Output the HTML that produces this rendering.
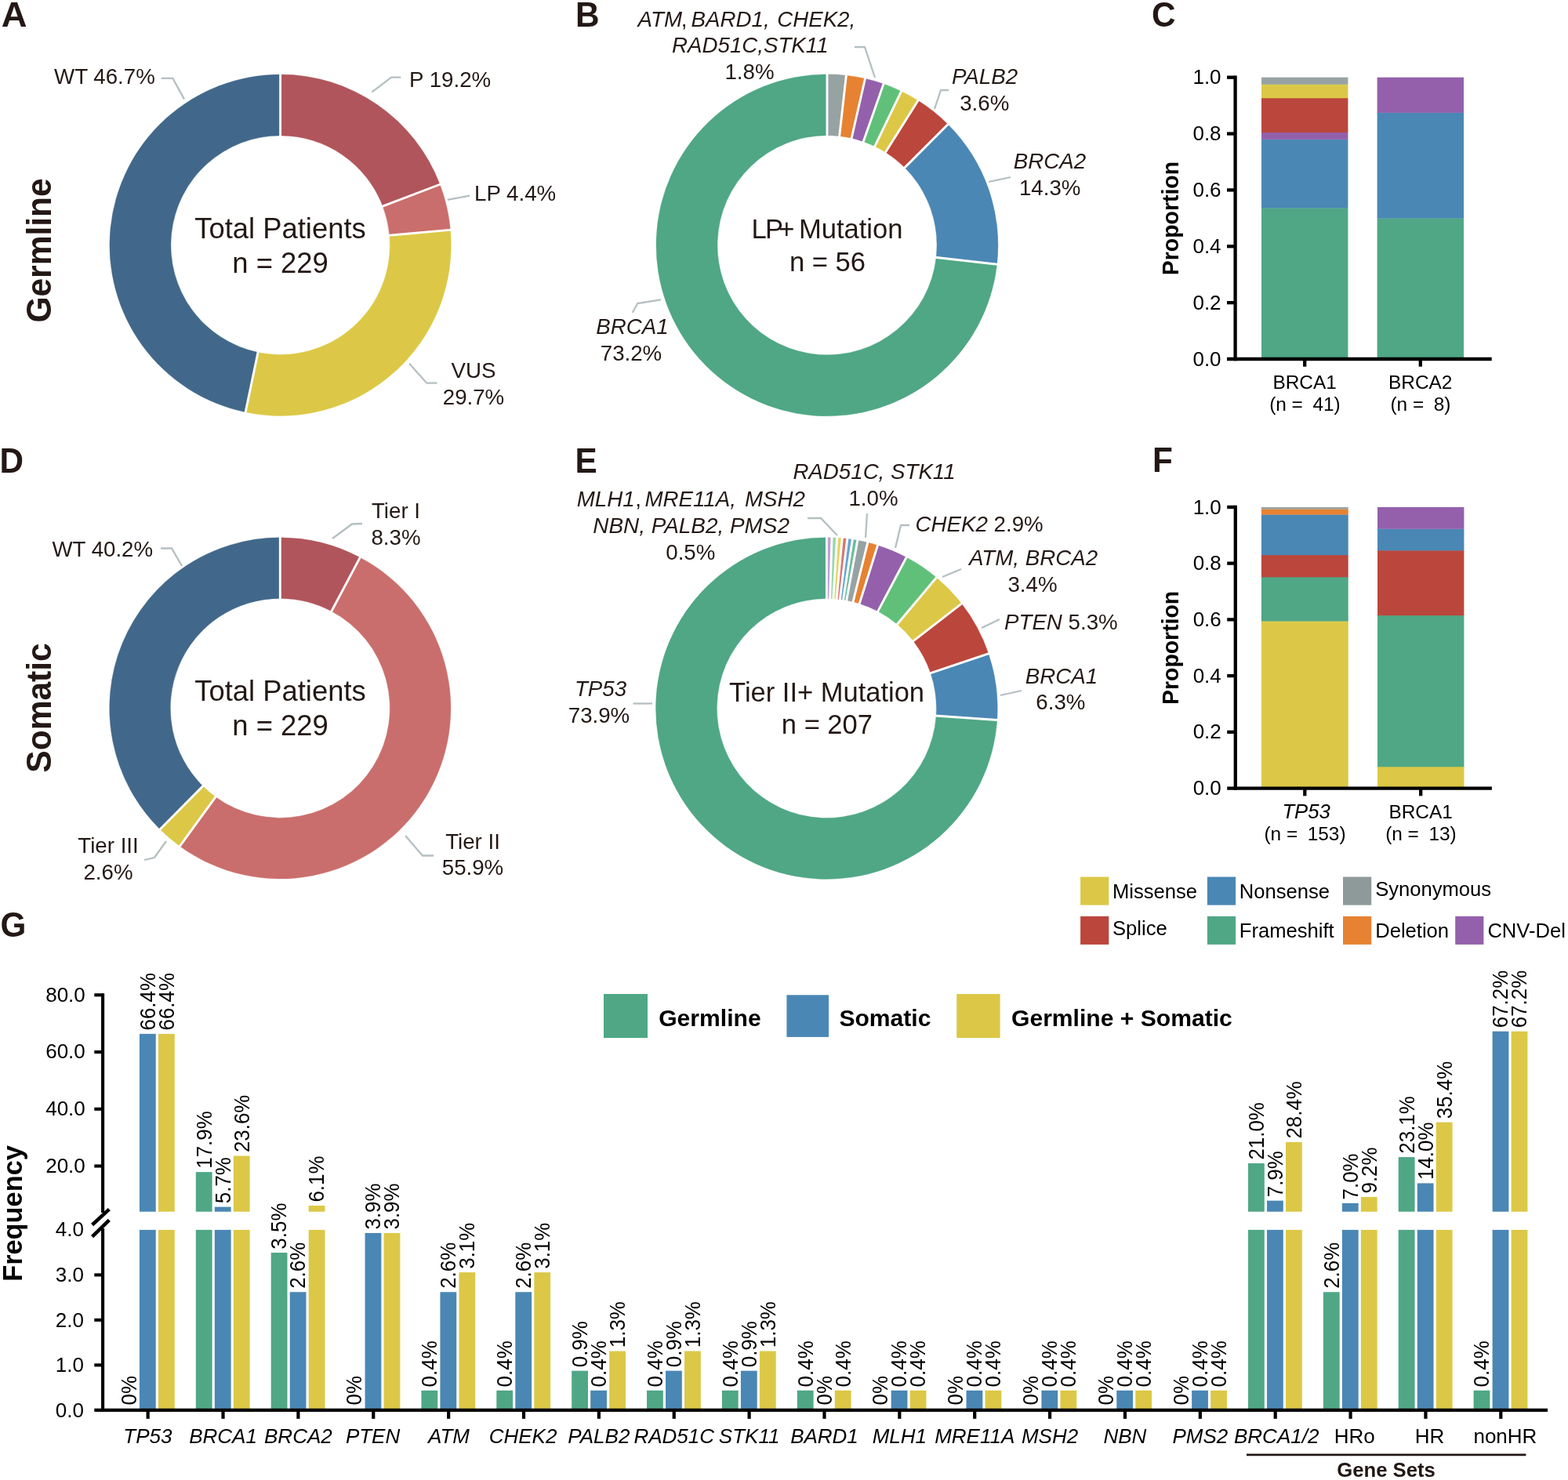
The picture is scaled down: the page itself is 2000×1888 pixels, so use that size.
<!DOCTYPE html>
<html lang="en"><head><meta charset="utf-8"><title>Figure</title>
<style>
html,body{margin:0;padding:0;background:#fff;}
body{width:2000px;height:1888px;overflow:hidden;}
svg{display:block;font-family:"Liberation Sans",Arial,Helvetica,sans-serif;fill:#231815;}
</style></head><body>
<svg width="2000" height="1888" viewBox="0 0 2000 1888">
<rect width="2000" height="1888" fill="#fff"/>
<text transform="translate(1.7 34) scale(1.02 1)" text-anchor="start" style="font-size:44.5px;font-weight:bold;" >A</text>
<text transform="translate(734 34) scale(0.95 1)" text-anchor="start" style="font-size:44.5px;font-weight:bold;" >B</text>
<text transform="translate(1469 34) scale(0.95 1)" text-anchor="start" style="font-size:44.5px;font-weight:bold;" >C</text>
<text transform="translate(-0.4 602.6) scale(0.95 1)" text-anchor="start" style="font-size:44.5px;font-weight:bold;" >D</text>
<text transform="translate(733.4 602.5) scale(0.95 1)" text-anchor="start" style="font-size:44.5px;font-weight:bold;" >E</text>
<text transform="translate(1470 602) scale(0.95 1)" text-anchor="start" style="font-size:44.5px;font-weight:bold;" >F</text>
<text transform="translate(0.6 1195.2) scale(0.95 1)" text-anchor="start" style="font-size:44.5px;font-weight:bold;" >G</text>
<text transform="translate(64.6 319.5) rotate(-90) scale(0.955 1)" text-anchor="middle" style="font-size:44.5px;font-weight:bold;" >Germline</text>
<text transform="translate(64.6 903) rotate(-90) scale(0.955 1)" text-anchor="middle" style="font-size:44.5px;font-weight:bold;" >Somatic</text>
<path d="M357.60 95.00A217.7 217.7 0 0 1 561.07 235.29L488.17 263.02A139.7 139.7 0 0 0 357.60 173.00Z" fill="#b0555b" stroke="#b0555b" stroke-width="0.4"/>
<path d="M561.07 235.29A217.7 217.7 0 0 1 574.44 293.31L496.74 300.26A139.7 139.7 0 0 0 488.17 263.02Z" fill="#c96e6c" stroke="#c96e6c" stroke-width="0.4"/>
<path d="M574.44 293.31A217.7 217.7 0 0 1 313.12 525.81L329.05 449.45A139.7 139.7 0 0 0 496.74 300.26Z" fill="#dcc846" stroke="#dcc846" stroke-width="0.4"/>
<path d="M313.12 525.81A217.7 217.7 0 0 1 357.60 95.00L357.60 173.00A139.7 139.7 0 0 0 329.05 449.45Z" fill="#41688a" stroke="#41688a" stroke-width="0.4"/>
<line x1="357.60" y1="93.50" x2="357.60" y2="174.50" stroke="#fff" stroke-width="2.9"/>
<line x1="562.47" y1="234.75" x2="486.77" y2="263.56" stroke="#fff" stroke-width="2.9"/>
<line x1="575.93" y1="293.18" x2="495.25" y2="300.39" stroke="#fff" stroke-width="2.9"/>
<line x1="312.81" y1="527.28" x2="329.36" y2="447.98" stroke="#fff" stroke-width="2.9"/>
<text x="69" y="106.6" text-anchor="start" style="font-size:27.7px;" >WT 46.7%</text>
<text x="522" y="110.7" text-anchor="start" style="font-size:27.7px;" >P 19.2%</text>
<text x="605" y="255.6" text-anchor="start" style="font-size:27.7px;" >LP 4.4%</text>
<text x="604" y="482" text-anchor="middle" style="font-size:27.7px;" >VUS</text>
<text x="604" y="516" text-anchor="middle" style="font-size:27.7px;" >29.7%</text>
<text x="357.5" y="303.8" text-anchor="middle" style="font-size:36.4px;" >Total Patients</text>
<text x="357.5" y="348" text-anchor="middle" style="font-size:36.4px;" >n = 229</text>
<polyline points="205.6,99.9 220.4,99.9 235,126.6" fill="none" stroke="#b5bfc2" stroke-width="2.3"/>
<polyline points="511.3,98.6 499.2,98.6 474.2,117.6" fill="none" stroke="#b5bfc2" stroke-width="2.3"/>
<polyline points="599,249.6 570.9,254.8" fill="none" stroke="#b5bfc2" stroke-width="2.3"/>
<polyline points="557.6,488.7 544.3,488.7 522.1,463.8" fill="none" stroke="#b5bfc2" stroke-width="2.3"/>
<path d="M1055.00 94.80A218 218 0 0 1 1079.41 96.17L1070.68 173.68A140 140 0 0 0 1055.00 172.80Z" fill="#97a3a2" stroke="#97a3a2" stroke-width="0.4"/>
<path d="M1079.41 96.17A218 218 0 0 1 1103.51 100.27L1086.15 176.31A140 140 0 0 0 1070.68 173.68Z" fill="#e68231" stroke="#e68231" stroke-width="0.4"/>
<path d="M1103.51 100.27A218 218 0 0 1 1127.00 107.03L1101.24 180.66A140 140 0 0 0 1086.15 176.31Z" fill="#9460ab" stroke="#9460ab" stroke-width="0.4"/>
<path d="M1127.00 107.03A218 218 0 0 1 1149.59 116.39L1115.74 186.66A140 140 0 0 0 1101.24 180.66Z" fill="#60c079" stroke="#60c079" stroke-width="0.4"/>
<path d="M1149.59 116.39A218 218 0 0 1 1170.98 128.21L1129.48 194.26A140 140 0 0 0 1115.74 186.66Z" fill="#dcc846" stroke="#dcc846" stroke-width="0.4"/>
<path d="M1170.98 128.21A218 218 0 0 1 1209.15 158.65L1153.99 213.81A140 140 0 0 0 1129.48 194.26Z" fill="#bb463c" stroke="#bb463c" stroke-width="0.4"/>
<path d="M1209.15 158.65A218 218 0 0 1 1271.63 337.21L1194.12 328.48A140 140 0 0 0 1153.99 213.81Z" fill="#4a87b4" stroke="#4a87b4" stroke-width="0.4"/>
<path d="M1271.63 337.21A218 218 0 1 1 1055.00 94.80L1055.00 172.80A140 140 0 1 0 1194.12 328.48Z" fill="#4fa785" stroke="#4fa785" stroke-width="0.4"/>
<line x1="1055.00" y1="93.30" x2="1055.00" y2="174.30" stroke="#fff" stroke-width="2.9"/>
<line x1="1079.58" y1="94.68" x2="1070.51" y2="175.17" stroke="#fff" stroke-width="2.9"/>
<line x1="1103.84" y1="98.80" x2="1085.82" y2="177.77" stroke="#fff" stroke-width="2.9"/>
<line x1="1127.50" y1="105.62" x2="1100.74" y2="182.07" stroke="#fff" stroke-width="2.9"/>
<line x1="1150.24" y1="115.04" x2="1115.09" y2="188.02" stroke="#fff" stroke-width="2.9"/>
<line x1="1171.78" y1="126.94" x2="1128.69" y2="195.53" stroke="#fff" stroke-width="2.9"/>
<line x1="1210.21" y1="157.59" x2="1152.93" y2="214.87" stroke="#fff" stroke-width="2.9"/>
<line x1="1273.12" y1="337.38" x2="1192.63" y2="328.31" stroke="#fff" stroke-width="2.9"/>
<text x="813.6" y="34" text-anchor="start" style="font-size:27.7px;" ><tspan font-style="italic">ATM</tspan><tspan x="868.8">,</tspan> <tspan x="881.6" font-style="italic">BARD1,</tspan> <tspan x="991.2" font-style="italic">CHEK2,</tspan></text>
<text x="956.8" y="67" text-anchor="middle" style="font-size:27.7px;font-style:italic;" >RAD51C,STK11</text>
<text x="956" y="101" text-anchor="middle" style="font-size:27.7px;" >1.8%</text>
<text x="1256" y="107" text-anchor="middle" style="font-size:27.7px;font-style:italic;" >PALB2</text>
<text x="1255.7" y="140.5" text-anchor="middle" style="font-size:27.7px;" >3.6%</text>
<text x="1339" y="215" text-anchor="middle" style="font-size:27.7px;font-style:italic;" >BRCA2</text>
<text x="1339.2" y="249" text-anchor="middle" style="font-size:27.7px;" >14.3%</text>
<text x="806.5" y="425.5" text-anchor="middle" style="font-size:27.7px;font-style:italic;" >BRCA1</text>
<text x="805" y="459.8" text-anchor="middle" style="font-size:27.7px;" >73.2%</text>
<text x="958.5" y="304.4" text-anchor="start" style="font-size:34.6px;" >L<tspan x="975.9">P</tspan><tspan x="993.3">+</tspan> <tspan x="1018.9">Mutation</tspan></text>
<text x="1055.5" y="345.8" text-anchor="middle" style="font-size:34.6px;" >n = 56</text>
<polyline points="1090,60 1103,60 1116,99" fill="none" stroke="#b5bfc2" stroke-width="2.3"/>
<polyline points="1210,115 1200,115 1192,139" fill="none" stroke="#b5bfc2" stroke-width="2.3"/>
<polyline points="1289,226 1261,232" fill="none" stroke="#b5bfc2" stroke-width="2.3"/>
<polyline points="843,382.3 813.2,387 806.8,398.8" fill="none" stroke="#b5bfc2" stroke-width="2.3"/>
<path d="M357.30 685.80A217.6 217.6 0 0 1 459.21 711.14L422.86 779.70A140 140 0 0 0 357.30 763.40Z" fill="#b0555b" stroke="#b0555b" stroke-width="0.4"/>
<path d="M459.21 711.14A217.6 217.6 0 1 1 229.40 1079.44L275.01 1016.66A140 140 0 1 0 422.86 779.70Z" fill="#c96e6c" stroke="#c96e6c" stroke-width="0.4"/>
<path d="M229.40 1079.44A217.6 217.6 0 0 1 204.11 1057.94L258.74 1002.83A140 140 0 0 0 275.01 1016.66Z" fill="#dcc846" stroke="#dcc846" stroke-width="0.4"/>
<path d="M204.11 1057.94A217.6 217.6 0 0 1 357.30 685.80L357.30 763.40A140 140 0 0 0 258.74 1002.83Z" fill="#41688a" stroke="#41688a" stroke-width="0.4"/>
<line x1="357.30" y1="684.30" x2="357.30" y2="764.90" stroke="#fff" stroke-width="2.9"/>
<line x1="459.91" y1="709.81" x2="422.16" y2="781.03" stroke="#fff" stroke-width="2.9"/>
<line x1="228.52" y1="1080.66" x2="275.89" y2="1015.45" stroke="#fff" stroke-width="2.9"/>
<line x1="203.06" y1="1059.01" x2="259.80" y2="1001.76" stroke="#fff" stroke-width="2.9"/>
<text x="66.4" y="710.4" text-anchor="start" style="font-size:27.7px;" >WT 40.2%</text>
<text x="505" y="661" text-anchor="middle" style="font-size:27.7px;" >Tier I</text>
<text x="505" y="694.6" text-anchor="middle" style="font-size:27.7px;" >8.3%</text>
<text x="603" y="1082.6" text-anchor="middle" style="font-size:27.7px;" >Tier II</text>
<text x="603" y="1116.1" text-anchor="middle" style="font-size:27.7px;" >55.9%</text>
<text x="138" y="1088.4" text-anchor="middle" style="font-size:27.7px;" >Tier III</text>
<text x="138" y="1122.4" text-anchor="middle" style="font-size:27.7px;" >2.6%</text>
<text x="357.5" y="894.2" text-anchor="middle" style="font-size:36.4px;" >Total Patients</text>
<text x="357.5" y="938.4" text-anchor="middle" style="font-size:36.4px;" >n = 229</text>
<polyline points="205,699.5 219,699.5 232,722" fill="none" stroke="#b5bfc2" stroke-width="2.3"/>
<polyline points="462,668 449,668.5 424,687" fill="none" stroke="#b5bfc2" stroke-width="2.3"/>
<polyline points="553,1091.5 539,1091.5 517,1066" fill="none" stroke="#b5bfc2" stroke-width="2.3"/>
<polyline points="184,1097 197,1094 212,1073" fill="none" stroke="#b5bfc2" stroke-width="2.3"/>
<path d="M1054.40 685.70A217.9 217.9 0 0 1 1061.01 685.80L1058.65 763.66A140 140 0 0 0 1054.40 763.60Z" fill="#bda2d5" stroke="#bda2d5" stroke-width="0.4"/>
<path d="M1061.01 685.80A217.9 217.9 0 0 1 1067.62 686.10L1062.89 763.86A140 140 0 0 0 1058.65 763.66Z" fill="#96d9ac" stroke="#96d9ac" stroke-width="0.4"/>
<path d="M1067.62 686.10A217.9 217.9 0 0 1 1074.21 686.60L1067.13 764.18A140 140 0 0 0 1062.89 763.86Z" fill="#e5d365" stroke="#e5d365" stroke-width="0.4"/>
<path d="M1074.21 686.60A217.9 217.9 0 0 1 1080.79 687.30L1071.36 764.63A140 140 0 0 0 1067.13 764.18Z" fill="#d67877" stroke="#d67877" stroke-width="0.4"/>
<path d="M1080.79 687.30A217.9 217.9 0 0 1 1087.34 688.20L1075.57 765.21A140 140 0 0 0 1071.36 764.63Z" fill="#68a5d2" stroke="#68a5d2" stroke-width="0.4"/>
<path d="M1087.34 688.20A217.9 217.9 0 0 1 1093.87 689.30L1079.76 765.92A140 140 0 0 0 1075.57 765.21Z" fill="#6bbd9f" stroke="#6bbd9f" stroke-width="0.4"/>
<path d="M1093.87 689.30A217.9 217.9 0 0 1 1106.79 692.09L1088.06 767.71A140 140 0 0 0 1079.76 765.92Z" fill="#97a3a2" stroke="#97a3a2" stroke-width="0.4"/>
<path d="M1106.79 692.09A217.9 217.9 0 0 1 1119.53 695.66L1096.25 770.00A140 140 0 0 0 1088.06 767.71Z" fill="#e68231" stroke="#e68231" stroke-width="0.4"/>
<path d="M1119.53 695.66A217.9 217.9 0 0 1 1156.11 710.90L1119.75 779.79A140 140 0 0 0 1096.25 770.00Z" fill="#9460ab" stroke="#9460ab" stroke-width="0.4"/>
<path d="M1156.11 710.90A217.9 217.9 0 0 1 1194.46 736.68L1144.39 796.35A140 140 0 0 0 1119.75 779.79Z" fill="#60c079" stroke="#60c079" stroke-width="0.4"/>
<path d="M1194.46 736.68A217.9 217.9 0 0 1 1226.51 769.97L1164.98 817.74A140 140 0 0 0 1144.39 796.35Z" fill="#dcc846" stroke="#dcc846" stroke-width="0.4"/>
<path d="M1226.51 769.97A217.9 217.9 0 0 1 1260.80 833.75L1187.01 858.72A140 140 0 0 0 1164.98 817.74Z" fill="#bb463c" stroke="#bb463c" stroke-width="0.4"/>
<path d="M1260.80 833.75A217.9 217.9 0 0 1 1271.79 918.47L1194.07 913.15A140 140 0 0 0 1187.01 858.72Z" fill="#4a87b4" stroke="#4a87b4" stroke-width="0.4"/>
<path d="M1271.79 918.47A217.9 217.9 0 1 1 1054.40 685.70L1054.40 763.60A140 140 0 1 0 1194.07 913.15Z" fill="#4fa785" stroke="#4fa785" stroke-width="0.4"/>
<line x1="1054.40" y1="684.20" x2="1054.40" y2="765.10" stroke="#fff" stroke-width="2.9"/>
<line x1="1061.06" y1="684.30" x2="1058.60" y2="765.16" stroke="#fff" stroke-width="2.9"/>
<line x1="1067.71" y1="684.60" x2="1062.80" y2="765.36" stroke="#fff" stroke-width="2.9"/>
<line x1="1074.35" y1="685.11" x2="1066.99" y2="765.67" stroke="#fff" stroke-width="2.9"/>
<line x1="1080.97" y1="685.82" x2="1071.17" y2="766.12" stroke="#fff" stroke-width="2.9"/>
<line x1="1087.57" y1="686.72" x2="1075.34" y2="766.69" stroke="#fff" stroke-width="2.9"/>
<line x1="1094.14" y1="687.83" x2="1079.48" y2="767.39" stroke="#fff" stroke-width="2.9"/>
<line x1="1107.15" y1="690.64" x2="1087.70" y2="769.16" stroke="#fff" stroke-width="2.9"/>
<line x1="1119.98" y1="694.23" x2="1095.80" y2="771.43" stroke="#fff" stroke-width="2.9"/>
<line x1="1156.81" y1="709.57" x2="1119.05" y2="781.11" stroke="#fff" stroke-width="2.9"/>
<line x1="1195.43" y1="735.53" x2="1143.43" y2="797.50" stroke="#fff" stroke-width="2.9"/>
<line x1="1227.70" y1="769.05" x2="1163.80" y2="818.66" stroke="#fff" stroke-width="2.9"/>
<line x1="1262.22" y1="833.27" x2="1185.59" y2="859.21" stroke="#fff" stroke-width="2.9"/>
<line x1="1273.29" y1="918.57" x2="1192.58" y2="913.05" stroke="#fff" stroke-width="2.9"/>
<text x="1115" y="611" text-anchor="middle" style="font-size:27.7px;font-style:italic;" >RAD51C, STK11</text>
<text x="1114" y="645" text-anchor="middle" style="font-size:27.7px;" >1.0%</text>
<text x="735.8" y="646" text-anchor="start" style="font-size:27.7px;" ><tspan font-style="italic">MLH1</tspan><tspan x="810.2">,</tspan> <tspan x="822.4" font-style="italic">MRE11A,</tspan> <tspan x="949.9" font-style="italic">MSH2</tspan></text>
<text x="881.6" y="680" text-anchor="middle" style="font-size:27.9px;font-style:italic;" >NBN, PALB2, PMS2</text>
<text x="880.8" y="713.5" text-anchor="middle" style="font-size:27.7px;" >0.5%</text>
<text x="1167.6" y="677.7" text-anchor="start" style="font-size:27.7px;" ><tspan font-style="italic">CHEK2</tspan> 2.9%</text>
<text x="1318" y="720.8" text-anchor="middle" style="font-size:27.7px;font-style:italic;" >ATM, BRCA2</text>
<text x="1317" y="755" text-anchor="middle" style="font-size:27.7px;" >3.4%</text>
<text x="1281" y="803" text-anchor="start" style="font-size:27.7px;" ><tspan font-style="italic">PTEN</tspan> 5.3%</text>
<text x="1354" y="871.6" text-anchor="middle" style="font-size:27.7px;font-style:italic;" >BRCA1</text>
<text x="1352.9" y="905" text-anchor="middle" style="font-size:27.7px;" >6.3%</text>
<text x="766" y="888" text-anchor="middle" style="font-size:27.7px;font-style:italic;" >TP53</text>
<text x="764" y="922" text-anchor="middle" style="font-size:27.7px;" >73.9%</text>
<text x="1054.6" y="894.8" text-anchor="middle" style="font-size:34.5px;" >Tier II+ Mutation</text>
<text x="1054.9" y="935.9" text-anchor="middle" style="font-size:34.5px;" >n = 207</text>
<polyline points="1030,661 1047,661 1068,683" fill="none" stroke="#b5bfc2" stroke-width="2.3"/>
<polyline points="1106,655 1104,686" fill="none" stroke="#b5bfc2" stroke-width="2.3"/>
<polyline points="1160,670 1149,670 1142,699" fill="none" stroke="#b5bfc2" stroke-width="2.3"/>
<polyline points="1226,726 1202,736" fill="none" stroke="#b5bfc2" stroke-width="2.3"/>
<polyline points="1275,790 1252,801" fill="none" stroke="#b5bfc2" stroke-width="2.3"/>
<polyline points="1303,881 1276,887" fill="none" stroke="#b5bfc2" stroke-width="2.3"/>
<polyline points="807.5,897.5 832,897.5" fill="none" stroke="#b5bfc2" stroke-width="2.3"/>
<rect x="1609.00" y="265.20" width="110.40" height="193.10" fill="#4fa785"/>
<rect x="1609.00" y="177.57" width="110.40" height="87.93" fill="#4a87b4"/>
<rect x="1609.00" y="168.81" width="110.40" height="9.06" fill="#9460ab"/>
<rect x="1609.00" y="124.99" width="110.40" height="44.12" fill="#bb463c"/>
<rect x="1609.00" y="107.46" width="110.40" height="17.83" fill="#dcc846"/>
<rect x="1609.00" y="98.70" width="110.40" height="9.06" fill="#97a3a2"/>
<rect x="1756.60" y="278.35" width="110.40" height="179.95" fill="#4fa785"/>
<rect x="1756.60" y="143.61" width="110.40" height="135.04" fill="#4a87b4"/>
<rect x="1756.60" y="98.70" width="110.40" height="45.21" fill="#9460ab"/>
<line x1="1575.6" y1="96.55" x2="1575.6" y2="460.15" stroke="#000" stroke-width="4.3"/>
<line x1="1565.0" y1="458" x2="1902.7" y2="458" stroke="#000" stroke-width="4.3"/>
<line x1="1565.0" y1="386.14" x2="1575.6" y2="386.14" stroke="#000" stroke-width="4.3"/>
<line x1="1565.0" y1="314.28" x2="1575.6" y2="314.28" stroke="#000" stroke-width="4.3"/>
<line x1="1565.0" y1="242.42" x2="1575.6" y2="242.42" stroke="#000" stroke-width="4.3"/>
<line x1="1565.0" y1="170.56" x2="1575.6" y2="170.56" stroke="#000" stroke-width="4.3"/>
<line x1="1565.0" y1="98.69999999999999" x2="1575.6" y2="98.69999999999999" stroke="#000" stroke-width="4.3"/>
<text x="1557.6" y="466.6" text-anchor="end" style="font-size:26px;" fill="#000">0.0</text>
<text x="1557.6" y="394.74" text-anchor="end" style="font-size:26px;" fill="#000">0.2</text>
<text x="1557.6" y="322.88" text-anchor="end" style="font-size:26px;" fill="#000">0.4</text>
<text x="1557.6" y="251.02" text-anchor="end" style="font-size:26px;" fill="#000">0.6</text>
<text x="1557.6" y="179.16" text-anchor="end" style="font-size:26px;" fill="#000">0.8</text>
<text x="1557.6" y="107.3" text-anchor="end" style="font-size:26px;" fill="#000">1.0</text>
<line x1="1664.2" y1="458" x2="1664.2" y2="467.7" stroke="#000" stroke-width="4.3"/>
<text x="1664.1" y="496.4" text-anchor="middle" style="font-size:24.4px;" fill="#000">BRCA1</text>
<text x="1664.4" y="523.5" text-anchor="middle" style="font-size:24.4px;" fill="#000">(n = <tspan dx="5.8">41)</tspan></text>
<line x1="1811.8" y1="458" x2="1811.8" y2="467.7" stroke="#000" stroke-width="4.3"/>
<text x="1811.7" y="496.4" text-anchor="middle" style="font-size:24.4px;" fill="#000">BRCA2</text>
<text x="1812.0" y="523.5" text-anchor="middle" style="font-size:24.4px;" fill="#000">(n = <tspan dx="5.8">8)</tspan></text>
<text transform="translate(1502.6 278.6) rotate(-90) scale(0.96 1)" text-anchor="middle" style="font-size:29.6px;font-weight:bold;" fill="#000">Proportion</text>
<rect x="1608.90" y="792.26" width="110.80" height="213.64" fill="#dcc846"/>
<rect x="1608.90" y="735.99" width="110.80" height="56.57" fill="#4fa785"/>
<rect x="1608.90" y="707.86" width="110.80" height="28.43" fill="#bb463c"/>
<rect x="1608.90" y="656.28" width="110.80" height="51.88" fill="#4a87b4"/>
<rect x="1608.90" y="649.24" width="110.80" height="7.33" fill="#e68231"/>
<rect x="1608.90" y="646.90" width="110.80" height="2.64" fill="#97a3a2"/>
<rect x="1757.00" y="978.01" width="110.40" height="27.89" fill="#dcc846"/>
<rect x="1757.00" y="784.86" width="110.40" height="193.45" fill="#4fa785"/>
<rect x="1757.00" y="702.08" width="110.40" height="83.08" fill="#bb463c"/>
<rect x="1757.00" y="674.49" width="110.40" height="27.89" fill="#4a87b4"/>
<rect x="1757.00" y="646.90" width="110.40" height="27.89" fill="#9460ab"/>
<line x1="1575.8" y1="644.75" x2="1575.8" y2="1007.75" stroke="#000" stroke-width="4.3"/>
<line x1="1565.2" y1="1005.6" x2="1902.9" y2="1005.6" stroke="#000" stroke-width="4.3"/>
<line x1="1565.2" y1="933.86" x2="1575.8" y2="933.86" stroke="#000" stroke-width="4.3"/>
<line x1="1565.2" y1="862.12" x2="1575.8" y2="862.12" stroke="#000" stroke-width="4.3"/>
<line x1="1565.2" y1="790.38" x2="1575.8" y2="790.38" stroke="#000" stroke-width="4.3"/>
<line x1="1565.2" y1="718.64" x2="1575.8" y2="718.64" stroke="#000" stroke-width="4.3"/>
<line x1="1565.2" y1="646.9" x2="1575.8" y2="646.9" stroke="#000" stroke-width="4.3"/>
<text x="1557.8" y="1014.2" text-anchor="end" style="font-size:26px;" fill="#000">0.0</text>
<text x="1557.8" y="942.46" text-anchor="end" style="font-size:26px;" fill="#000">0.2</text>
<text x="1557.8" y="870.72" text-anchor="end" style="font-size:26px;" fill="#000">0.4</text>
<text x="1557.8" y="798.98" text-anchor="end" style="font-size:26px;" fill="#000">0.6</text>
<text x="1557.8" y="727.24" text-anchor="end" style="font-size:26px;" fill="#000">0.8</text>
<text x="1557.8" y="655.5" text-anchor="end" style="font-size:26px;" fill="#000">1.0</text>
<line x1="1664.3000000000002" y1="1005.6" x2="1664.3000000000002" y2="1015.3000000000001" stroke="#000" stroke-width="4.3"/>
<text x="1666.1" y="1044.0" text-anchor="middle" style="font-size:25.7px;font-style:italic;" fill="#000">TP53</text>
<text x="1664.5" y="1071.6" text-anchor="middle" style="font-size:24.4px;" fill="#000">(n = <tspan dx="5.8">153)</tspan></text>
<line x1="1812.2" y1="1005.6" x2="1812.2" y2="1015.3000000000001" stroke="#000" stroke-width="4.3"/>
<text x="1812.1" y="1044.0" text-anchor="middle" style="font-size:24.4px;" fill="#000">BRCA1</text>
<text x="1812.4" y="1071.6" text-anchor="middle" style="font-size:24.4px;" fill="#000">(n = <tspan dx="5.8">13)</tspan></text>
<text transform="translate(1502.6 826.4) rotate(-90) scale(0.96 1)" text-anchor="middle" style="font-size:29.6px;font-weight:bold;" fill="#000">Proportion</text>
<rect x="1378.10" y="1118.60" width="36.20" height="36.00" fill="#dcc846"/>
<text x="1419.0" y="1145.6" text-anchor="start" style="font-size:25.6px;" fill="#000">Missense</text>
<rect x="1539.90" y="1118.60" width="36.20" height="36.00" fill="#4a87b4"/>
<text x="1580.8" y="1145.6" text-anchor="start" style="font-size:25.6px;" fill="#000">Nonsense</text>
<rect x="1713.00" y="1118.60" width="36.20" height="36.00" fill="#8e9a99"/>
<text x="1754.2" y="1142.8" text-anchor="start" style="font-size:25.6px;" fill="#000">Synonymous</text>
<rect x="1378.10" y="1168.90" width="36.20" height="36.00" fill="#bb463c"/>
<text x="1419.0" y="1193.1" text-anchor="start" style="font-size:25.6px;" fill="#000">Splice</text>
<rect x="1539.90" y="1168.90" width="36.20" height="36.00" fill="#4fa785"/>
<text x="1580.8" y="1195.6" text-anchor="start" style="font-size:25.6px;" fill="#000">Frameshift</text>
<rect x="1713.00" y="1168.90" width="36.20" height="36.00" fill="#e68231"/>
<text x="1754.2" y="1195.6" text-anchor="start" style="font-size:25.6px;" fill="#000">Deletion</text>
<rect x="1856.20" y="1168.90" width="36.20" height="36.00" fill="#9460ab"/>
<text x="1897.4" y="1195.6" text-anchor="start" style="font-size:25.6px;" fill="#000">CNV-Del</text>
<text transform="translate(173.75 1792.5) rotate(-90) scale(0.96 1)" text-anchor="start" style="font-size:27px;" fill="#000">0%</text>
<rect x="177.95" y="1568.90" width="20.80" height="230.00" fill="#4a87b4"/>
<rect x="177.95" y="1318.85" width="20.80" height="226.85" fill="#4a87b4"/>
<text transform="translate(197.75 1314.45) rotate(-90) scale(0.96 1)" text-anchor="start" style="font-size:27px;" fill="#000">66.4%</text>
<rect x="201.95" y="1568.90" width="20.80" height="230.00" fill="#dcc846"/>
<rect x="201.95" y="1318.85" width="20.80" height="226.85" fill="#dcc846"/>
<text transform="translate(221.75 1314.45) rotate(-90) scale(0.96 1)" text-anchor="start" style="font-size:27px;" fill="#000">66.4%</text>
<line x1="188.65" y1="1798.9" x2="188.65" y2="1809.9" stroke="#000" stroke-width="4.2"/>
<text x="188.35" y="1841" text-anchor="middle" style="font-size:26px;font-style:italic;" fill="#000">TP53</text>
<rect x="249.82" y="1568.90" width="20.80" height="230.00" fill="#4fa785"/>
<rect x="249.82" y="1495.13" width="20.80" height="50.57" fill="#4fa785"/>
<text transform="translate(269.62 1490.73) rotate(-90) scale(0.96 1)" text-anchor="start" style="font-size:27px;" fill="#000">17.9%</text>
<rect x="273.82" y="1568.90" width="20.80" height="230.00" fill="#4a87b4"/>
<rect x="273.82" y="1539.60" width="20.80" height="6.10" fill="#4a87b4"/>
<text transform="translate(293.62 1535.2) rotate(-90) scale(0.96 1)" text-anchor="start" style="font-size:27px;" fill="#000">5.7%</text>
<rect x="297.82" y="1568.90" width="20.80" height="230.00" fill="#dcc846"/>
<rect x="297.82" y="1474.49" width="20.80" height="71.21" fill="#dcc846"/>
<text transform="translate(317.62 1470.09) rotate(-90) scale(0.96 1)" text-anchor="start" style="font-size:27px;" fill="#000">23.6%</text>
<line x1="284.52" y1="1798.9" x2="284.52" y2="1809.9" stroke="#000" stroke-width="4.2"/>
<text x="284.52" y="1841" text-anchor="middle" style="font-size:26px;font-style:italic;" fill="#000">BRCA1</text>
<rect x="345.69" y="1598.03" width="20.80" height="200.87" fill="#4fa785"/>
<text transform="translate(365.49 1593.63) rotate(-90) scale(0.96 1)" text-anchor="start" style="font-size:27px;" fill="#000">3.5%</text>
<rect x="369.69" y="1648.24" width="20.80" height="150.66" fill="#4a87b4"/>
<text transform="translate(389.49 1643.84) rotate(-90) scale(0.96 1)" text-anchor="start" style="font-size:27px;" fill="#000">2.6%</text>
<rect x="393.69" y="1568.90" width="20.80" height="230.00" fill="#dcc846"/>
<rect x="393.69" y="1538.01" width="20.80" height="7.69" fill="#dcc846"/>
<text transform="translate(413.49 1533.61) rotate(-90) scale(0.96 1)" text-anchor="start" style="font-size:27px;" fill="#000">6.1%</text>
<line x1="380.39" y1="1798.9" x2="380.39" y2="1809.9" stroke="#000" stroke-width="4.2"/>
<text x="380.39" y="1841" text-anchor="middle" style="font-size:26px;font-style:italic;" fill="#000">BRCA2</text>
<text transform="translate(461.36 1792.5) rotate(-90) scale(0.96 1)" text-anchor="start" style="font-size:27px;" fill="#000">0%</text>
<rect x="465.56" y="1572.92" width="20.80" height="225.98" fill="#4a87b4"/>
<text transform="translate(485.36 1568.52) rotate(-90) scale(0.96 1)" text-anchor="start" style="font-size:27px;" fill="#000">3.9%</text>
<rect x="489.56" y="1572.92" width="20.80" height="225.98" fill="#dcc846"/>
<text transform="translate(509.36 1568.52) rotate(-90) scale(0.96 1)" text-anchor="start" style="font-size:27px;" fill="#000">3.9%</text>
<line x1="476.26" y1="1798.9" x2="476.26" y2="1809.9" stroke="#000" stroke-width="4.2"/>
<text x="475.56" y="1841" text-anchor="middle" style="font-size:26px;font-style:italic;" fill="#000">PTEN</text>
<rect x="537.43" y="1773.79" width="20.80" height="25.11" fill="#4fa785"/>
<text transform="translate(557.23 1769.39) rotate(-90) scale(0.96 1)" text-anchor="start" style="font-size:27px;" fill="#000">0.4%</text>
<rect x="561.43" y="1648.24" width="20.80" height="150.66" fill="#4a87b4"/>
<text transform="translate(581.23 1643.84) rotate(-90) scale(0.96 1)" text-anchor="start" style="font-size:27px;" fill="#000">2.6%</text>
<rect x="585.43" y="1623.14" width="20.80" height="175.76" fill="#dcc846"/>
<text transform="translate(605.23 1618.74) rotate(-90) scale(0.96 1)" text-anchor="start" style="font-size:27px;" fill="#000">3.1%</text>
<line x1="572.13" y1="1798.9" x2="572.13" y2="1809.9" stroke="#000" stroke-width="4.2"/>
<text x="572.53" y="1841" text-anchor="middle" style="font-size:26px;font-style:italic;" fill="#000">ATM</text>
<rect x="633.30" y="1773.79" width="20.80" height="25.11" fill="#4fa785"/>
<text transform="translate(653.1 1769.39) rotate(-90) scale(0.96 1)" text-anchor="start" style="font-size:27px;" fill="#000">0.4%</text>
<rect x="657.30" y="1648.24" width="20.80" height="150.66" fill="#4a87b4"/>
<text transform="translate(677.1 1643.84) rotate(-90) scale(0.96 1)" text-anchor="start" style="font-size:27px;" fill="#000">2.6%</text>
<rect x="681.30" y="1623.14" width="20.80" height="175.76" fill="#dcc846"/>
<text transform="translate(701.1 1618.74) rotate(-90) scale(0.96 1)" text-anchor="start" style="font-size:27px;" fill="#000">3.1%</text>
<line x1="668.0" y1="1798.9" x2="668.0" y2="1809.9" stroke="#000" stroke-width="4.2"/>
<text x="667.0" y="1841" text-anchor="middle" style="font-size:26px;font-style:italic;" fill="#000">CHEK2</text>
<rect x="729.17" y="1748.68" width="20.80" height="50.22" fill="#4fa785"/>
<text transform="translate(748.97 1744.28) rotate(-90) scale(0.96 1)" text-anchor="start" style="font-size:27px;" fill="#000">0.9%</text>
<rect x="753.17" y="1773.79" width="20.80" height="25.11" fill="#4a87b4"/>
<text transform="translate(772.97 1769.39) rotate(-90) scale(0.96 1)" text-anchor="start" style="font-size:27px;" fill="#000">0.4%</text>
<rect x="777.17" y="1723.57" width="20.80" height="75.33" fill="#dcc846"/>
<text transform="translate(796.97 1719.17) rotate(-90) scale(0.96 1)" text-anchor="start" style="font-size:27px;" fill="#000">1.3%</text>
<line x1="763.87" y1="1798.9" x2="763.87" y2="1809.9" stroke="#000" stroke-width="4.2"/>
<text x="763.87" y="1841" text-anchor="middle" style="font-size:26px;font-style:italic;" fill="#000">PALB2</text>
<rect x="825.04" y="1773.79" width="20.80" height="25.11" fill="#4fa785"/>
<text transform="translate(844.84 1769.39) rotate(-90) scale(0.96 1)" text-anchor="start" style="font-size:27px;" fill="#000">0.4%</text>
<rect x="849.04" y="1748.68" width="20.80" height="50.22" fill="#4a87b4"/>
<text transform="translate(868.84 1744.28) rotate(-90) scale(0.96 1)" text-anchor="start" style="font-size:27px;" fill="#000">0.9%</text>
<rect x="873.04" y="1723.57" width="20.80" height="75.33" fill="#dcc846"/>
<text transform="translate(892.84 1719.17) rotate(-90) scale(0.96 1)" text-anchor="start" style="font-size:27px;" fill="#000">1.3%</text>
<line x1="859.74" y1="1798.9" x2="859.74" y2="1809.9" stroke="#000" stroke-width="4.2"/>
<text x="859.74" y="1841" text-anchor="middle" style="font-size:26px;font-style:italic;" fill="#000">RAD51C</text>
<rect x="920.91" y="1773.79" width="20.80" height="25.11" fill="#4fa785"/>
<text transform="translate(940.71 1769.39) rotate(-90) scale(0.96 1)" text-anchor="start" style="font-size:27px;" fill="#000">0.4%</text>
<rect x="944.91" y="1748.68" width="20.80" height="50.22" fill="#4a87b4"/>
<text transform="translate(964.71 1744.28) rotate(-90) scale(0.96 1)" text-anchor="start" style="font-size:27px;" fill="#000">0.9%</text>
<rect x="968.91" y="1723.57" width="20.80" height="75.33" fill="#dcc846"/>
<text transform="translate(988.71 1719.17) rotate(-90) scale(0.96 1)" text-anchor="start" style="font-size:27px;" fill="#000">1.3%</text>
<line x1="955.61" y1="1798.9" x2="955.61" y2="1809.9" stroke="#000" stroke-width="4.2"/>
<text x="955.61" y="1841" text-anchor="middle" style="font-size:26px;font-style:italic;" fill="#000">STK11</text>
<rect x="1016.78" y="1773.79" width="20.80" height="25.11" fill="#4fa785"/>
<text transform="translate(1036.58 1769.39) rotate(-90) scale(0.96 1)" text-anchor="start" style="font-size:27px;" fill="#000">0.4%</text>
<text transform="translate(1060.58 1792.5) rotate(-90) scale(0.96 1)" text-anchor="start" style="font-size:27px;" fill="#000">0%</text>
<rect x="1064.78" y="1773.79" width="20.80" height="25.11" fill="#dcc846"/>
<text transform="translate(1084.58 1769.39) rotate(-90) scale(0.96 1)" text-anchor="start" style="font-size:27px;" fill="#000">0.4%</text>
<line x1="1051.48" y1="1798.9" x2="1051.48" y2="1809.9" stroke="#000" stroke-width="4.2"/>
<text x="1051.48" y="1841" text-anchor="middle" style="font-size:26px;font-style:italic;" fill="#000">BARD1</text>
<text transform="translate(1132.45 1792.5) rotate(-90) scale(0.96 1)" text-anchor="start" style="font-size:27px;" fill="#000">0%</text>
<rect x="1136.65" y="1773.79" width="20.80" height="25.11" fill="#4a87b4"/>
<text transform="translate(1156.45 1769.39) rotate(-90) scale(0.96 1)" text-anchor="start" style="font-size:27px;" fill="#000">0.4%</text>
<rect x="1160.65" y="1773.79" width="20.80" height="25.11" fill="#dcc846"/>
<text transform="translate(1180.45 1769.39) rotate(-90) scale(0.96 1)" text-anchor="start" style="font-size:27px;" fill="#000">0.4%</text>
<line x1="1147.3500000000001" y1="1798.9" x2="1147.3500000000001" y2="1809.9" stroke="#000" stroke-width="4.2"/>
<text x="1147.35" y="1841" text-anchor="middle" style="font-size:26px;font-style:italic;" fill="#000">MLH1</text>
<text transform="translate(1228.32 1792.5) rotate(-90) scale(0.96 1)" text-anchor="start" style="font-size:27px;" fill="#000">0%</text>
<rect x="1232.52" y="1773.79" width="20.80" height="25.11" fill="#4a87b4"/>
<text transform="translate(1252.32 1769.39) rotate(-90) scale(0.96 1)" text-anchor="start" style="font-size:27px;" fill="#000">0.4%</text>
<rect x="1256.52" y="1773.79" width="20.80" height="25.11" fill="#dcc846"/>
<text transform="translate(1276.32 1769.39) rotate(-90) scale(0.96 1)" text-anchor="start" style="font-size:27px;" fill="#000">0.4%</text>
<line x1="1243.2200000000003" y1="1798.9" x2="1243.2200000000003" y2="1809.9" stroke="#000" stroke-width="4.2"/>
<text x="1243.22" y="1841" text-anchor="middle" style="font-size:26px;font-style:italic;" fill="#000">MRE11A</text>
<text transform="translate(1324.19 1792.5) rotate(-90) scale(0.96 1)" text-anchor="start" style="font-size:27px;" fill="#000">0%</text>
<rect x="1328.39" y="1773.79" width="20.80" height="25.11" fill="#4a87b4"/>
<text transform="translate(1348.19 1769.39) rotate(-90) scale(0.96 1)" text-anchor="start" style="font-size:27px;" fill="#000">0.4%</text>
<rect x="1352.39" y="1773.79" width="20.80" height="25.11" fill="#dcc846"/>
<text transform="translate(1372.19 1769.39) rotate(-90) scale(0.96 1)" text-anchor="start" style="font-size:27px;" fill="#000">0.4%</text>
<line x1="1339.0900000000001" y1="1798.9" x2="1339.0900000000001" y2="1809.9" stroke="#000" stroke-width="4.2"/>
<text x="1339.09" y="1841" text-anchor="middle" style="font-size:26px;font-style:italic;" fill="#000">MSH2</text>
<text transform="translate(1420.06 1792.5) rotate(-90) scale(0.96 1)" text-anchor="start" style="font-size:27px;" fill="#000">0%</text>
<rect x="1424.26" y="1773.79" width="20.80" height="25.11" fill="#4a87b4"/>
<text transform="translate(1444.06 1769.39) rotate(-90) scale(0.96 1)" text-anchor="start" style="font-size:27px;" fill="#000">0.4%</text>
<rect x="1448.26" y="1773.79" width="20.80" height="25.11" fill="#dcc846"/>
<text transform="translate(1468.06 1769.39) rotate(-90) scale(0.96 1)" text-anchor="start" style="font-size:27px;" fill="#000">0.4%</text>
<line x1="1434.96" y1="1798.9" x2="1434.96" y2="1809.9" stroke="#000" stroke-width="4.2"/>
<text x="1434.96" y="1841" text-anchor="middle" style="font-size:26px;font-style:italic;" fill="#000">NBN</text>
<text transform="translate(1515.93 1792.5) rotate(-90) scale(0.96 1)" text-anchor="start" style="font-size:27px;" fill="#000">0%</text>
<rect x="1520.13" y="1773.79" width="20.80" height="25.11" fill="#4a87b4"/>
<text transform="translate(1539.93 1769.39) rotate(-90) scale(0.96 1)" text-anchor="start" style="font-size:27px;" fill="#000">0.4%</text>
<rect x="1544.13" y="1773.79" width="20.80" height="25.11" fill="#dcc846"/>
<text transform="translate(1563.93 1769.39) rotate(-90) scale(0.96 1)" text-anchor="start" style="font-size:27px;" fill="#000">0.4%</text>
<line x1="1530.8300000000002" y1="1798.9" x2="1530.8300000000002" y2="1809.9" stroke="#000" stroke-width="4.2"/>
<text x="1530.83" y="1841" text-anchor="middle" style="font-size:26px;font-style:italic;" fill="#000">PMS2</text>
<rect x="1592.00" y="1568.90" width="20.80" height="230.00" fill="#4fa785"/>
<rect x="1592.00" y="1484.02" width="20.80" height="61.68" fill="#4fa785"/>
<text transform="translate(1611.8 1479.62) rotate(-90) scale(0.96 1)" text-anchor="start" style="font-size:27px;" fill="#000">21.0%</text>
<rect x="1616.00" y="1568.90" width="20.80" height="230.00" fill="#4a87b4"/>
<rect x="1616.00" y="1531.66" width="20.80" height="14.04" fill="#4a87b4"/>
<text transform="translate(1635.8 1527.26) rotate(-90) scale(0.96 1)" text-anchor="start" style="font-size:27px;" fill="#000">7.9%</text>
<rect x="1640.00" y="1568.90" width="20.80" height="230.00" fill="#dcc846"/>
<rect x="1640.00" y="1457.02" width="20.80" height="88.68" fill="#dcc846"/>
<text transform="translate(1659.8 1452.62) rotate(-90) scale(0.96 1)" text-anchor="start" style="font-size:27px;" fill="#000">28.4%</text>
<line x1="1626.7000000000003" y1="1798.9" x2="1626.7000000000003" y2="1809.9" stroke="#000" stroke-width="4.2"/>
<text x="1628.2" y="1841" text-anchor="middle" style="font-size:26px;font-style:italic;" fill="#000">BRCA1/2</text>
<rect x="1687.87" y="1648.24" width="20.80" height="150.66" fill="#4fa785"/>
<text transform="translate(1707.67 1643.84) rotate(-90) scale(0.96 1)" text-anchor="start" style="font-size:27px;" fill="#000">2.6%</text>
<rect x="1711.87" y="1568.90" width="20.80" height="230.00" fill="#4a87b4"/>
<rect x="1711.87" y="1534.84" width="20.80" height="10.86" fill="#4a87b4"/>
<text transform="translate(1731.67 1530.44) rotate(-90) scale(0.96 1)" text-anchor="start" style="font-size:27px;" fill="#000">7.0%</text>
<rect x="1735.87" y="1568.90" width="20.80" height="230.00" fill="#dcc846"/>
<rect x="1735.87" y="1526.90" width="20.80" height="18.80" fill="#dcc846"/>
<text transform="translate(1755.67 1522.5) rotate(-90) scale(0.96 1)" text-anchor="start" style="font-size:27px;" fill="#000">9.2%</text>
<line x1="1722.5700000000002" y1="1798.9" x2="1722.5700000000002" y2="1809.9" stroke="#000" stroke-width="4.2"/>
<text x="1727.77" y="1841" text-anchor="middle" style="font-size:26px;" fill="#000">HRo</text>
<rect x="1783.74" y="1568.90" width="20.80" height="230.00" fill="#4fa785"/>
<rect x="1783.74" y="1476.08" width="20.80" height="69.62" fill="#4fa785"/>
<text transform="translate(1803.54 1471.68) rotate(-90) scale(0.96 1)" text-anchor="start" style="font-size:27px;" fill="#000">23.1%</text>
<rect x="1807.74" y="1568.90" width="20.80" height="230.00" fill="#4a87b4"/>
<rect x="1807.74" y="1509.43" width="20.80" height="36.27" fill="#4a87b4"/>
<text transform="translate(1827.54 1505.03) rotate(-90) scale(0.96 1)" text-anchor="start" style="font-size:27px;" fill="#000">14.0%</text>
<rect x="1831.74" y="1568.90" width="20.80" height="230.00" fill="#dcc846"/>
<rect x="1831.74" y="1431.61" width="20.80" height="114.09" fill="#dcc846"/>
<text transform="translate(1851.54 1427.21) rotate(-90) scale(0.96 1)" text-anchor="start" style="font-size:27px;" fill="#000">35.4%</text>
<line x1="1818.44" y1="1798.9" x2="1818.44" y2="1809.9" stroke="#000" stroke-width="4.2"/>
<text x="1823.64" y="1841" text-anchor="middle" style="font-size:26px;" fill="#000">HR</text>
<rect x="1879.61" y="1773.79" width="20.80" height="25.11" fill="#4fa785"/>
<text transform="translate(1899.41 1769.39) rotate(-90) scale(0.96 1)" text-anchor="start" style="font-size:27px;" fill="#000">0.4%</text>
<rect x="1903.61" y="1568.90" width="20.80" height="230.00" fill="#4a87b4"/>
<rect x="1903.61" y="1315.67" width="20.80" height="230.03" fill="#4a87b4"/>
<text transform="translate(1923.41 1311.27) rotate(-90) scale(0.96 1)" text-anchor="start" style="font-size:27px;" fill="#000">67.2%</text>
<rect x="1927.61" y="1568.90" width="20.80" height="230.00" fill="#dcc846"/>
<rect x="1927.61" y="1315.67" width="20.80" height="230.03" fill="#dcc846"/>
<text transform="translate(1947.41 1311.27) rotate(-90) scale(0.96 1)" text-anchor="start" style="font-size:27px;" fill="#000">67.2%</text>
<line x1="1914.3100000000002" y1="1798.9" x2="1914.3100000000002" y2="1809.9" stroke="#000" stroke-width="4.2"/>
<text x="1919.91" y="1841" text-anchor="middle" style="font-size:26px;" fill="#000">nonHR</text>
<line x1="131.1" y1="1267.2" x2="131.1" y2="1547" stroke="#000" stroke-width="4.1"/>
<line x1="131.1" y1="1567" x2="131.1" y2="1801.0" stroke="#000" stroke-width="4.1"/>
<line x1="120.3" y1="1798.9" x2="1974" y2="1798.9" stroke="#000" stroke-width="4.3"/>
<line x1="120.3" y1="1487.5105263157895" x2="131.1" y2="1487.5105263157895" stroke="#000" stroke-width="4.1"/>
<text x="108.8" y="1495.91" text-anchor="end" style="font-size:26px;" fill="#000">20.0</text>
<line x1="120.3" y1="1414.7736842105264" x2="131.1" y2="1414.7736842105264" stroke="#000" stroke-width="4.1"/>
<text x="108.8" y="1423.17" text-anchor="end" style="font-size:26px;" fill="#000">40.0</text>
<line x1="120.3" y1="1342.036842105263" x2="131.1" y2="1342.036842105263" stroke="#000" stroke-width="4.1"/>
<text x="108.8" y="1350.44" text-anchor="end" style="font-size:26px;" fill="#000">60.0</text>
<line x1="120.3" y1="1269.3" x2="131.1" y2="1269.3" stroke="#000" stroke-width="4.1"/>
<text x="108.8" y="1277.7" text-anchor="end" style="font-size:26px;" fill="#000">80.0</text>
<line x1="120.3" y1="1741.4" x2="131.1" y2="1741.4" stroke="#000" stroke-width="4.1"/>
<line x1="120.3" y1="1683.9" x2="131.1" y2="1683.9" stroke="#000" stroke-width="4.1"/>
<line x1="120.3" y1="1626.4" x2="131.1" y2="1626.4" stroke="#000" stroke-width="4.1"/>
<text x="106.9" y="1807.5" text-anchor="end" style="font-size:26px;" fill="#000">0.0</text>
<text x="106.9" y="1750.0" text-anchor="end" style="font-size:26px;" fill="#000">1.0</text>
<text x="106.9" y="1692.5" text-anchor="end" style="font-size:26px;" fill="#000">2.0</text>
<text x="106.9" y="1635.0" text-anchor="end" style="font-size:26px;" fill="#000">3.0</text>
<text x="106.9" y="1576.6" text-anchor="end" style="font-size:26px;" fill="#000">4.0</text>
<line x1="117.6" y1="1562.5" x2="139.3" y2="1542.6" stroke="#000" stroke-width="4.6"/>
<line x1="117.6" y1="1577.6" x2="139.3" y2="1556.3" stroke="#000" stroke-width="4.6"/>
<text transform="translate(27.6 1548) rotate(-90) scale(0.965 1)" text-anchor="middle" style="font-size:35.6px;font-weight:bold;" fill="#000">Frequency</text>
<rect x="770.00" y="1268.00" width="56.00" height="56.00" fill="#4fa785"/>
<rect x="1003.40" y="1269.30" width="53.60" height="53.60" fill="#4a87b4"/>
<rect x="1220.20" y="1268.00" width="55.40" height="56.00" fill="#dcc846"/>
<text x="840.2" y="1309.2" text-anchor="start" style="font-size:30.1px;font-weight:bold;" fill="#000">Germline</text>
<text x="1070.4" y="1309.2" text-anchor="start" style="font-size:30.1px;font-weight:bold;" fill="#000">Somatic</text>
<text x="1290" y="1309.2" text-anchor="start" style="font-size:30.1px;font-weight:bold;" fill="#000">Germline + Somatic</text>
<line x1="1590" y1="1855.9" x2="1946.4" y2="1855.9" stroke="#231815" stroke-width="2.8"/>
<text x="1768" y="1884.4" text-anchor="middle" style="font-size:25.7px;font-weight:bold;" >Gene Sets</text>
</svg>
</body></html>
